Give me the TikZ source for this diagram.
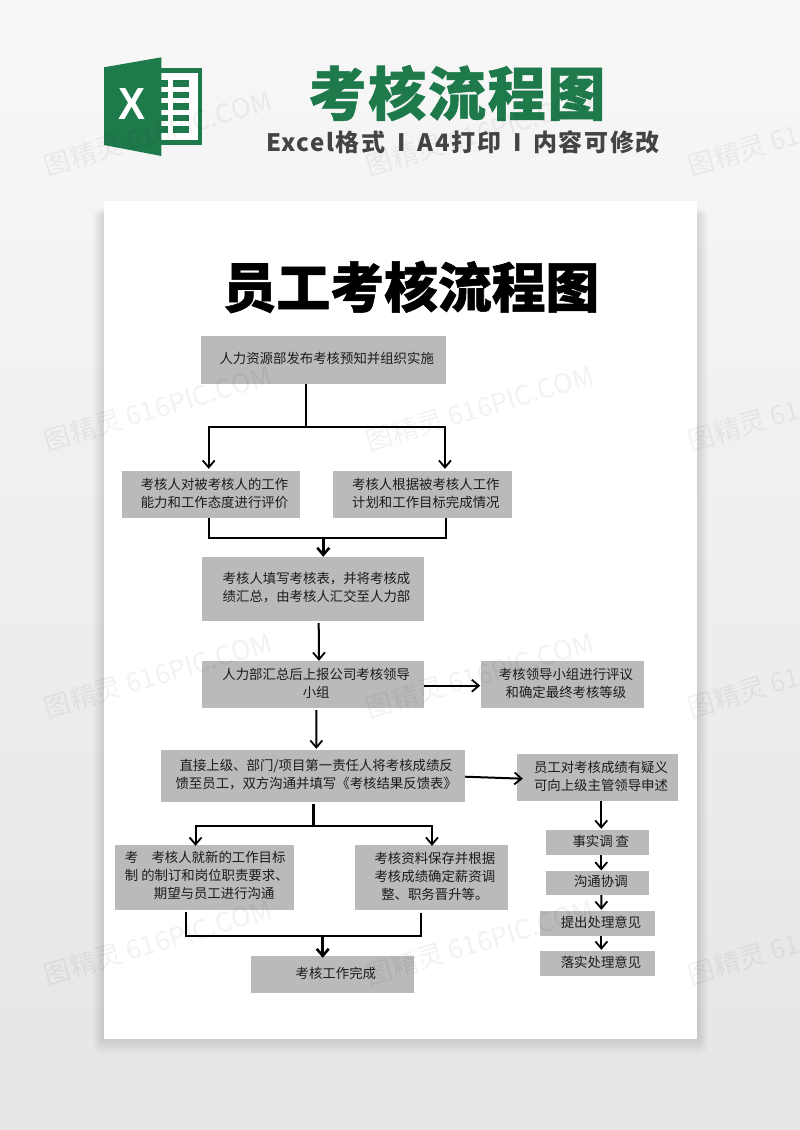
\documentclass[tikz,border=0pt]{standalone}
\usepackage{fontspec}
\setmainfont{Noto Sans CJK SC}
\newfontfamily\heavy{Noto Sans CJK SC}[BoldFeatures={FakeBold=1.0}]
\newfontfamily\latinbold{Liberation Sans Bold}
\usetikzlibrary{arrows.meta,calc}
\definecolor{xlgreen}{HTML}{1F7A4B}
\definecolor{boxgray}{HTML}{BABABA}
\definecolor{inkdark}{HTML}{1C1C1C}
\definecolor{subink}{HTML}{444444}
\newcommand{\bt}[2][c]{\hspace*{7pt}\begin{tabular}{@{}#1@{}}#2\end{tabular}}
\tikzset{
  x=1pt,y=-1pt,
  flowbox/.style={fill=boxgray,text=inkdark,inner sep=0pt,font=\fontsize{13.4}{18}\selectfont},
  link/.style={line width=2pt,black},
  stem/.style={line width=3pt,black},
  arr/.style={line width=2pt,black,-{Straight Barb[length=7pt,width=12pt,line width=1.8pt]}},
  fatarr/.style={line width=3pt,black,-{Straight Barb[length=7pt,width=12pt,line width=2.6pt]}},
  wmark/.style={text=black,opacity=0.05,rotate=16.5,font=\fontsize{26.5}{26.5}\selectfont,inner sep=0pt},
}
\newcommand{\boxat}[6]{\node[flowbox,minimum width=#4pt-#2pt,minimum height=#5pt-#3pt] (#1) at ({(#2+#4)/2},{(#3+#5)/2}) {#6};}
\begin{document}
\begin{tikzpicture}
\useasboundingbox (0,0) rectangle (800,1130);
\shade[top color=black!3,bottom color=black!10] (0,0) rectangle (800,1130);
% page shadow
\foreach \e in {1,2,...,16}{
  \fill[black,opacity=0.008,rounded corners=\e*0.6pt] ({104-\e*0.7},{216-\e*0.5}) rectangle ({697+\e*0.7},{1036+\e*1.2});
}
\fill[white] (104,201) rectangle (697,1039);
% logo
\fill[xlgreen] (161,68) rectangle (202,145);
\fill[white] (161,73.3) rectangle (197.5,140);
\foreach \yy in {80,91.5,103,114.5,126}{
  \fill[xlgreen] (161,\yy) rectangle (168,{\yy+6.6});
  \fill[xlgreen] (173.3,\yy) rectangle (189.3,{\yy+6.6});
}
\fill[xlgreen] (104,67.3) -- (161.3,57.3) -- (161.3,156) -- (104,145) -- cycle;
\node[text=white,inner sep=0pt,font=\latinbold\fontsize{45}{45}\selectfont] (logox) at (132,104) {\scalebox{0.9}[1]{X}};
% header
\node[text=xlgreen,inner sep=0pt,font=\heavy\bfseries\fontsize{58}{58}\selectfont] (head) at (457,93) {\addfontfeature{LetterSpace=3}考核流程图};
\node[text=subink,inner sep=0pt,font=\bfseries\fontsize{24}{24}\selectfont] (sub) at (463,142.5) {\addfontfeature{LetterSpace=6.5}Excel格式\hspace{12pt}I\hspace{12pt}A4打印\hspace{12pt}I\hspace{12pt}内容可修改};
\node[text=black,inner sep=0pt,font=\heavy\bfseries\fontsize{53.8}{54}\selectfont] (title) at (411,287) {员工考核流程图};
% boxes
\boxat{b1}{200.7}{336}{445.7}{384}{\bt{人力资源部发布考核预知并组织实施}}
\boxat{b2}{122}{471}{300}{518}{\bt{考核人对被考核人的工作\\能力和工作态度进行评价}}
\boxat{b3}{333}{471}{511.7}{518}{\bt{考核人根据被考核人工作\\计划和工作目标完成情况}}
\boxat{b4}{202}{557}{424}{621}{\bt{考核人填写考核表，并将考核成\\绩汇总，由考核人汇交至人力部}}
\boxat{b5}{201.7}{661}{423.7}{708}{\bt{人力部汇总后上报公司考核领导\\小组}}
\boxat{b6}{481.4}{661}{643.5}{708}{\bt{考核领导小组进行评议\\和确定最终考核等级}}
\boxat{b7}{160.7}{750}{464.8}{802}{\bt{直接上级、部门/项目第一责任人将考核成绩反\\馈至员工，双方沟通并填写《考核结果反馈表》}}
\boxat{b8}{517}{754}{678}{801}{\bt{员工对考核成绩有疑义\\可向上级主管领导申述}}
\boxat{b9}{115}{844.7}{293.5}{909.7}{\hspace*{-2pt}\bt[l]{考\hspace{13.3pt}考核人就新的工作目标\\制 的制订和岗位职责要求、\\\hspace*{29pt}期望与员工进行沟通}}
\boxat{b10}{355}{845}{507.7}{910}{\bt{考核资料保存并根据\\考核成绩确定薪资调\\整、职务晋升等。}}
\boxat{b11}{251}{956}{413.7}{993}{\bt{考核工作完成}}
\boxat{s1}{546}{830}{648.7}{855}{\bt{事实调 查}}
\boxat{s2}{546}{870.7}{648.7}{895}{\bt{沟通协调}}
\boxat{s3}{540}{911}{655}{936}{\bt{提出处理意见}}
\boxat{s4}{540}{951}{655}{976}{\bt{落实处理意见}}
% junctions
\coordinate (j1) at (306,427.3);
\coordinate (j2) at (323.3,537.5);
\coordinate (j3) at (313.5,825.7);
\coordinate (j4) at (322.7,935.5);
% connectors
\draw[link] (b1.south -| j1) -- (j1);
\draw[arr] (j1) -| ([xshift=-2.3pt,yshift=2pt]b2.north);
\draw[arr] (j1) -| ([xshift=22.6pt,yshift=2pt]b3.north);
\draw[link] ([xshift=-2.3pt]b2.south) |- (j2);
\draw[link] ([xshift=23.4pt]b3.south) |- (j2);
\draw[fatarr] (j2) -- (b4.north -| j2);
\draw[arr] ([xshift=5.7pt,yshift=-2pt]b4.south) -- ([xshift=6.3pt]b5.north);
\draw[arr] ([xshift=3.6pt,yshift=-2pt]b5.south) -- ([xshift=3.6pt,yshift=1pt]b7.north);
\draw[arr] ([yshift=-1.2pt]b5.east) -- ([xshift=-1pt,yshift=-1.2pt]b6.west);
\draw[arr] ([yshift=-.7pt]b7.east) -- ([xshift=6pt,yshift=-1.2pt]b8.west);
\draw[stem] ([yshift=-2pt]b7.south -| j3) -- (j3);
\draw[arr] (j3) -| ([xshift=-8.7pt,yshift=-1.3pt]b9.north);
\draw[arr] (j3) -| ([xshift=.6pt,yshift=-1pt]b10.north);
\draw[link] ([xshift=-18.7pt,yshift=-2pt]b9.south) |- (j4);
\draw[link] ([xshift=-10.3pt,yshift=-2.5pt]b10.south) |- (j4);
\draw[fatarr] (j4) -- ([yshift=-2pt]b11.north -| j4);
\draw[arr] ([xshift=3.9pt]s1.north |- b8.south) -- ([xshift=3.9pt,yshift=1pt]s1.north);
\draw[arr] ([xshift=3.9pt]s1.south) -- ([xshift=3.9pt]s2.north);
\draw[arr] ([xshift=3.9pt]s2.south) -- ([xshift=3.9pt,yshift=1pt]s3.north);
\draw[arr] ([xshift=3.9pt]s3.south) -- ([xshift=3.9pt,yshift=1pt]s4.north);
% watermarks
\foreach \cx/\n in {158/a,480/b,802/c}{
  \foreach \cy/\m in {133/p,408/q,675/r,942/s}{
    \node[wmark] (w\n\m) at (\cx,\cy) {图精灵 616PIC.COM};
  }
}
\end{tikzpicture}
\end{document}
